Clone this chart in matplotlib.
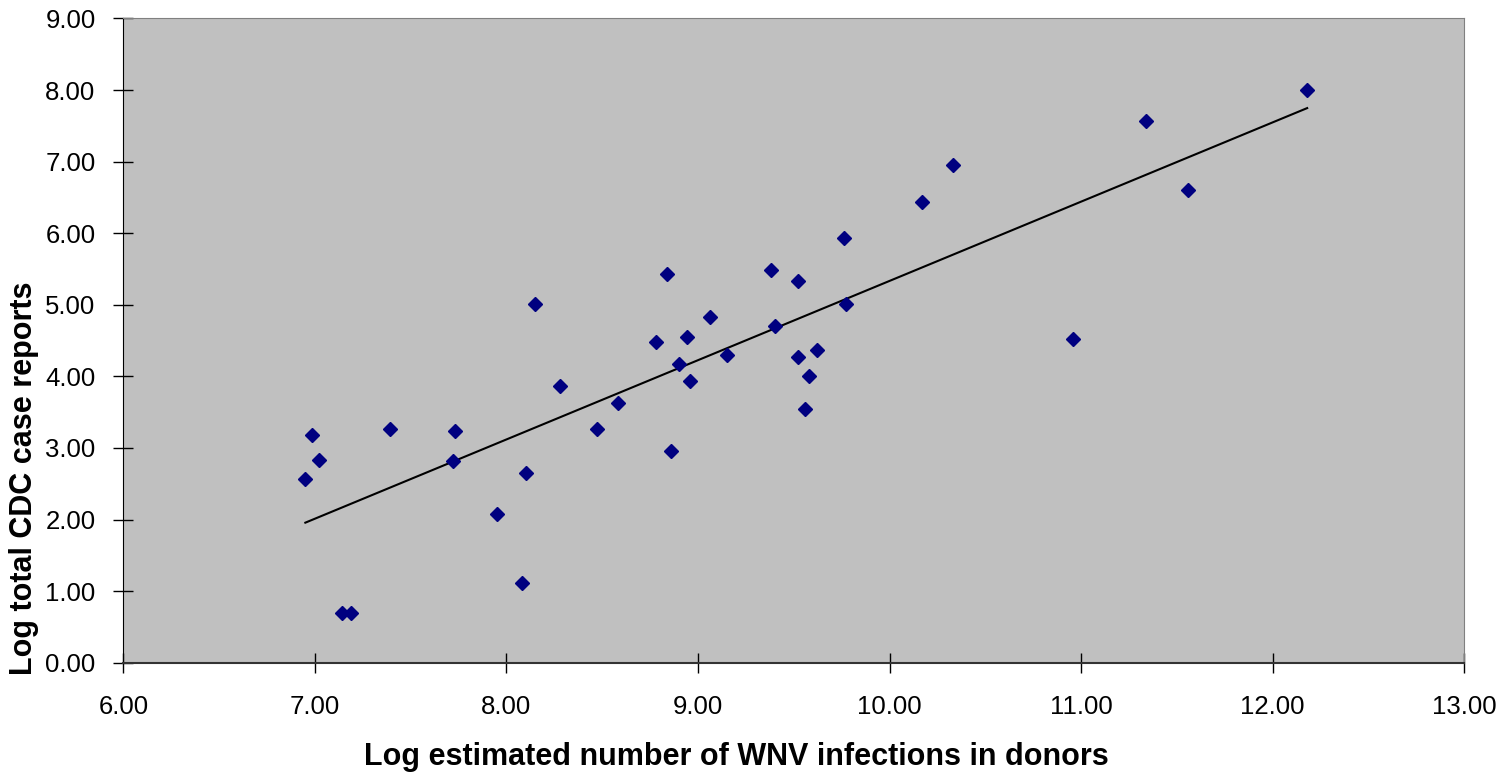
import matplotlib
matplotlib.use('Agg')
import matplotlib.pyplot as plt
import numpy as np

# Log estimated WNV infections in donors (x) vs log total CDC case reports (y)
log_donor_inf = [6.95, 6.985, 7.02, 7.14, 7.19, 7.39, 7.72, 7.73, 7.95, 8.08,
                 8.10, 8.15, 8.28, 8.47, 8.58, 8.78, 8.84, 8.86, 8.90, 8.94,
                 8.96, 9.06, 9.15, 9.38, 9.40, 9.52, 9.52, 9.58, 9.56, 9.62,
                 9.76, 9.77, 10.17, 10.33, 10.96, 11.34, 11.56, 12.18]
log_cdc_cases = [2.57, 3.18, 2.83, 0.69, 0.69, 3.26, 2.82, 3.24, 2.08, 1.11,
                 2.65, 5.01, 3.87, 3.26, 3.63, 4.48, 5.43, 2.96, 4.17, 4.55,
                 3.94, 4.83, 4.30, 5.48, 4.70, 5.33, 4.27, 4.00, 3.54, 4.37,
                 5.93, 5.01, 6.43, 6.95, 4.52, 7.57, 6.60, 8.00]

xticks = [6, 7, 8, 9, 10, 11, 12, 13]
yticks = [0, 1, 2, 3, 4, 5, 6, 7, 8, 9]

plt.rcParams['font.family'] = ['Liberation Sans', 'DejaVu Sans']

fig = plt.figure(figsize=(15.1, 7.73), dpi=100)
ax = fig.add_axes([0.0817, 0.1427, 0.888, 0.8334])
ax.set_facecolor('#c0c0c0')

# data points
ax.plot(log_donor_inf, log_cdc_cases, linestyle='none', marker='D',
        markersize=7.3, color='#000080', zorder=3)

# linear trend line, like the spreadsheet one
x = np.array(log_donor_inf)
slope, icpt = np.polyfit(x, np.array(log_cdc_cases), 1)
xs = np.array([x.min(), x.max()])
ax.plot(xs, slope * xs + icpt, color='black', linewidth=1.5, zorder=2)

ax.set_xlim(6, 13)
ax.set_ylim(0, 9)
ax.set_xticks(xticks)
ax.set_yticks(yticks)
ax.set_xticklabels(['%.2f' % v for v in xticks])
ax.set_yticklabels(['%.2f' % v for v in yticks])
ax.tick_params(direction='inout', length=14, width=1, labelsize=18.5, color='black')
ax.tick_params(axis='y', pad=13)
ax.tick_params(axis='x', pad=16)

ax.spines['left'].set_color('black')
ax.spines['bottom'].set_color('#333333')
ax.spines['bottom'].set_linewidth(1.5)
ax.spines['top'].set_color('#808080')
ax.spines['right'].set_color('#808080')

fig.text(736 / 1510, 1 - 757 / 773, 'Log estimated number of WNV infections in donors',
         ha='center', va='center', fontsize=22, fontweight='bold')
fig.text(24 / 1510, 1 - 478 / 773, 'Log total CDC case reports',
         ha='center', va='center', rotation=90, fontsize=22, fontweight='bold')

fig.savefig('out.png', dpi=100)
